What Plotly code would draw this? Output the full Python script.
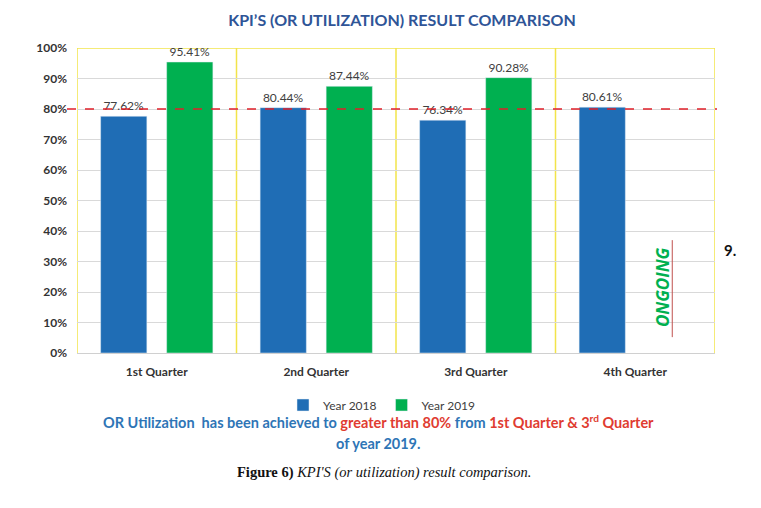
import plotly.graph_objects as go

categories = ["1st Quarter", "2nd Quarter", "3rd Quarter", "4th Quarter"]
year_2018 = [77.62, 80.44, 76.34, 80.61]
year_2019 = [95.41, 87.44, 90.28, None]
target = 80
y_ticks = [0, 10, 20, 30, 40, 50, 60, 70, 80, 90, 100]

BLUE = "#1f6db5"
GREEN = "#00b050"
FONT = "Lato, 'Open Sans', sans-serif"

# page body has an 8px margin; lay out in reference pixel coordinates
OFF = 8
W, H = 761 - OFF, 508 - OFF
L, R, T, B = 77 - OFF, 761 - 715, 48 - OFF, 508 - 353
PW, PH = W - L - R, H - T - B


def px(xr):
    return (xr - 77) / PW


def py(yr):
    return (353 - yr) / PH


fig = go.Figure()
fig.add_trace(go.Bar(name="Year 2018", x=categories, y=year_2018, marker_color=BLUE,
                     texttemplate="%{y:.2f}%", textposition="outside",
                     textfont=dict(size=12, color="#404040", family=FONT), cliponaxis=False))
fig.add_trace(go.Bar(name="Year 2019", x=categories, y=year_2019, marker_color=GREEN,
                     texttemplate="%{y:.2f}%", textposition="outside",
                     textfont=dict(size=12, color="#404040", family=FONT), cliponaxis=False))

fig.update_layout(
    width=W, height=H,
    margin=dict(l=L, r=R, t=T, b=B),
    plot_bgcolor="white", paper_bgcolor="white",
    barmode="group", bargap=0.172, bargroupgap=0.30,
    font=dict(family=FONT, color="#333333"),
    title=dict(text="<b>KPI’S (OR UTILIZATION) RESULT COMPARISON</b>",
               x=(402 - OFF) / W, xanchor="center", y=1 - (20 - OFF) / H, yanchor="middle",
               font=dict(size=16, color="#2f5597", family=FONT)),
    legend=dict(orientation="h", x=px(382), xanchor="center", y=py(405), yanchor="middle",
                font=dict(size=12, color="#404040"), itemwidth=30,
                traceorder="normal"),
    showlegend=True,
)
fig.update_xaxes(range=[-0.5, 3.5], showgrid=False, showline=True, linecolor="#d0d0d0",
                 ticks="", tickfont=dict(size=12, color="#333333", weight="bold"), ticklabelstandoff=8)
fig.update_yaxes(range=[0, 100], tickvals=y_ticks, ticktext=[f"{t}%" for t in y_ticks],
                 showgrid=True, gridcolor="#d9d9d9", zeroline=False,
                 tickfont=dict(size=12, color="#333333", weight="bold"), ticklabelstandoff=9)

# yellow category frame
for xb in [-0.5, 0.5, 1.5, 2.5, 3.5]:
    fig.add_shape(type="line", xref="x", yref="y", x0=xb, x1=xb, y0=0, y1=100,
                  line=dict(color="#f2e44a", width=1.5), layer="below")
fig.add_shape(type="line", xref="x", yref="y", x0=-0.5, x1=3.5, y0=100, y1=100,
              line=dict(color="#f2e44a", width=1.5), layer="below")

# target line
fig.add_shape(type="line", xref="paper", yref="y", x0=px(67), x1=px(717), y0=target, y1=target,
              line=dict(color="#e0202a", width=1.3, dash="dash"))

# ONGOING
fig.add_annotation(x=3.172, y=21.5, xref="x", yref="y", text="<b><i>ONGOING</i></b>",
                   textangle=-90, showarrow=False,
                   font=dict(size=17, color="#00b050", family="'Open Sans', sans-serif"))
fig.add_shape(type="line", xref="x", yref="y", x0=3.232, x1=3.232, y0=5.2, y1=37,
              line=dict(color="#c0504d", width=1))

fig.add_annotation(x=px(738), y=py(250), xref="paper", yref="paper", text="<b>9.</b>",
                   showarrow=False, font=dict(size=15, color="#111111", family=FONT))

RED = "#e03c31"
BL = "#2e75b6"
line1 = (f"<b><span style='color:{BL}'>OR Utilization  has been achieved to </span>"
         f"<span style='color:{RED}'>greater than 80% </span>"
         f"<span style='color:{BL}'>from </span>"
         f"<span style='color:{RED}'>1st Quarter &amp; 3<sup>rd</sup> Quarter</span></b>")
line2 = f"<b><span style='color:{BL}'>of year 2019.</span></b>"
fig.add_annotation(x=px(378), y=py(433), xref="paper", yref="paper", text=line1, showarrow=False,
                   font=dict(size=14.5, family=FONT))
fig.add_annotation(x=px(378), y=py(454), xref="paper", yref="paper", text=line2, showarrow=False,
                   font=dict(size=14.5, family=FONT))
fig.add_annotation(x=px(384), y=py(483), xref="paper", yref="paper",
                   text="<b>Figure 6)</b> <i>KPI'S (or utilization) result comparison.</i>",
                   showarrow=False, font=dict(size=14.5, color="#111111", family="'Liberation Serif', serif"))

fig.write_html("out.html")
